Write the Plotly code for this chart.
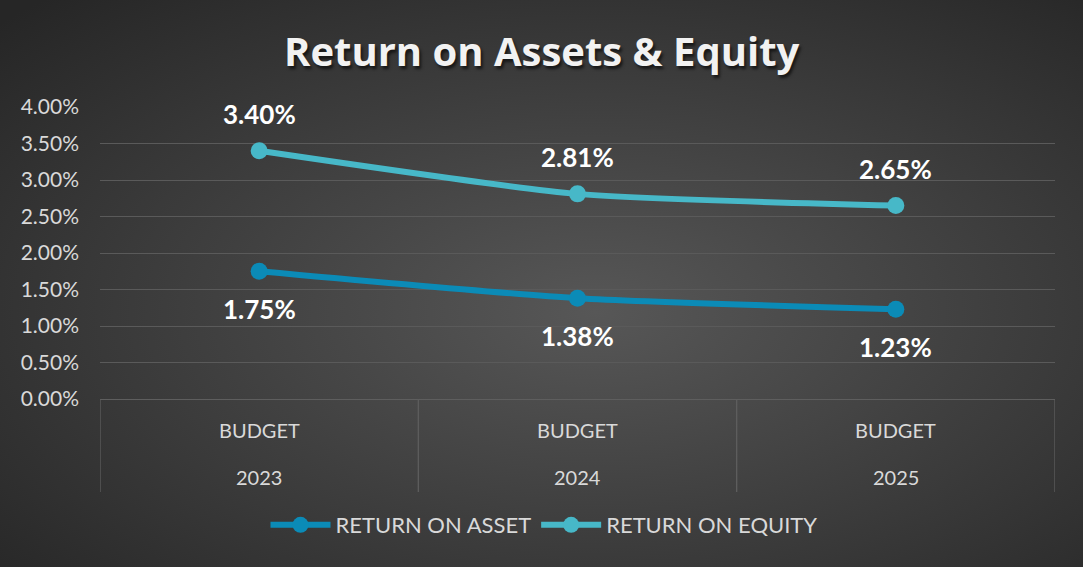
import plotly.graph_objects as go
import urllib.parse

# ---- data ----
categories = ["BUDGET", "BUDGET", "BUDGET"]
years = ["2023", "2024", "2025"]
roa = [0.0175, 0.0138, 0.0123]
roe = [0.0340, 0.0281, 0.0265]
series_names = ["RETURN ON ASSET", "RETURN ON EQUITY"]
title_text = "Return on Assets & Equity"

C_ASSET = "#0B8BB7"
C_EQUITY = "#47B8C8"
TXT = "#D9D9D9"
FONT = "Lato, 'Open Sans', sans-serif"

W, H = 1083, 567
L, R, T, B = 100, 28, 107, 168
PW, PH = W - L - R, H - T - B

def px_y(py):  # pixel y -> paper y
    return (H - B - py) / PH

def px_x(px):
    return (px - L) / PW

xs = list(range(len(years)))

fig = go.Figure()
for vals, name, col, pos in [(roa, series_names[0], C_ASSET, "bottom"),
                             (roe, series_names[1], C_EQUITY, "top")]:
    fig.add_trace(go.Scatter(
        x=xs, y=vals, name=name, mode="lines+markers",
        line=dict(color=col, width=6, shape="spline", smoothing=0.6),
        marker=dict(color=col, size=17),
    ))
    for xi, v in zip(xs, vals):
        fig.add_annotation(x=xi, y=v, xref="x", yref="y", text=f"{v*100:.2f}%",
                           showarrow=False, yshift=37 if pos == "top" else -38,
                           font=dict(family=FONT, size=26, color="white", weight="bold"))

# category labels (two levels)
for xi, c, yr in zip(xs, categories, years):
    fig.add_annotation(x=xi, y=px_y(430), xref="x", yref="paper", yanchor="middle",
                       text=c, showarrow=False, font=dict(family=FONT, size=20, color=TXT))
    fig.add_annotation(x=xi, y=px_y(477), xref="x", yref="paper", yanchor="middle",
                       text=yr, showarrow=False, font=dict(family=FONT, size=20, color=TXT))

# dividers
for d in [-0.5, 0.5, 1.5, 2.5]:
    fig.add_shape(type="line", x0=d, x1=d, xref="x", yref="paper",
                  y0=0, y1=px_y(492), line=dict(color="#5E5E5E", width=1.3))

# title with shadow
fig.add_annotation(x=px_x(W / 2), y=px_y(50), xref="paper", yref="paper",
                   xanchor="center", yanchor="middle", text=title_text, showarrow=False,
                   font=dict(family="'Open Sans', sans-serif", size=40, color="#F2F2F2",
                             weight="bold", shadow="2px 3px 3px rgba(0,0,0,0.6)"))

svg = ('<svg xmlns="http://www.w3.org/2000/svg" width="1083" height="567">'
       '<defs><radialGradient id="g" cx="55%" cy="55%" r="75%">'
       '<stop offset="0" stop-color="#575757"/><stop offset="1" stop-color="#262626"/>'
       '</radialGradient></defs><rect width="1083" height="567" fill="url(#g)"/></svg>')
src = "data:image/svg+xml;charset=utf-8," + urllib.parse.quote(svg)
fig.add_layout_image(source=src, xref="paper", yref="paper", x=px_x(0), y=px_y(0),
                     sizex=W / PW, sizey=H / PH, xanchor="left", yanchor="top",
                     sizing="stretch", layer="below")

fig.update_layout(
    width=W, height=H,
    margin=dict(l=L, r=R, t=T, b=B),
    paper_bgcolor="#3A3A3A", plot_bgcolor="rgba(0,0,0,0)",
    showlegend=True,
    legend=dict(orientation="h", x=px_x(544), xanchor="center", y=px_y(525), yanchor="middle",
                font=dict(family=FONT, size=22, color=TXT), bgcolor="rgba(0,0,0,0)",
                itemwidth=60, traceorder="normal"),
    xaxis=dict(range=[-0.5, 2.5], showgrid=False, zeroline=False, showticklabels=False,
               showline=False, fixedrange=True),
    yaxis=dict(range=[0, 0.04], dtick=0.005, tickformat=".2%", showgrid=True,
               gridcolor="#5A5A5A", gridwidth=1.3, zeroline=True, zerolinecolor="#5E5E5E",
               zerolinewidth=1.3, showline=False,
               tickfont=dict(family=FONT, size=21, color=TXT), ticks="", ticklabelstandoff=20),
    font=dict(family=FONT),
)

fig.write_html("out.html", config={"displayModeBar": False},
               post_script="document.body.style.margin='0px';")
